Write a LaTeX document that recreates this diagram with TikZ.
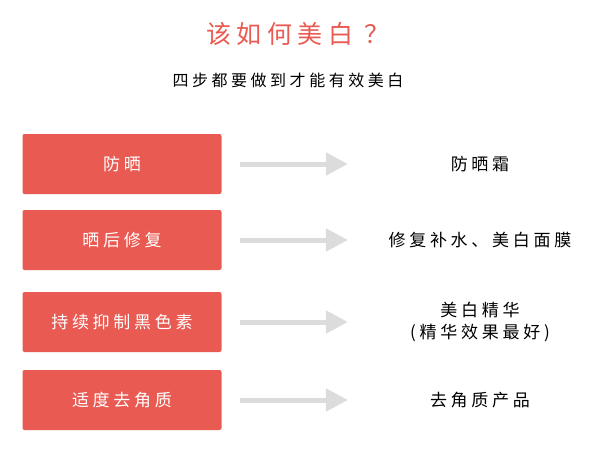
\documentclass[tikz,border=0pt]{standalone}
\usepackage{fontspec}
\setmainfont{Noto Sans CJK SC}[LetterSpace=22]
\usetikzlibrary{arrows.meta}
\definecolor{boxred}{HTML}{E85A52}
\definecolor{arrowgray}{HTML}{DCDCDC}
\begin{document}
\begin{tikzpicture}[x=1pt,y=-1pt,thick,
    step box/.style={fill=boxred,rounded corners=2pt,minimum width=199pt,minimum height=60pt,text=white,font=\fontsize{17}{20}\selectfont},
    result/.style={font=\fontsize{17}{22}\selectfont,align=center},
    pointer/.style={draw=arrowgray,line width=5pt,-{Triangle[length=22pt,width=22pt]}}]
        \useasboundingbox (0,0) rectangle (600,451);
        \node[text=boxred,font=\fontsize{25}{28}\selectfont] at (298,34) (title) {该如何美白 ？};
        \node[font=\fontsize{16}{18}\selectfont] at (288,80) (sub) {四步都要做到才能有效美白};

        \node[step box] at (122,164) (s1) {防晒};
        \node[step box] at (122,240) (s2) {晒后修复};
        \node[step box] at (122,322) (s3) {持续抑制黑色素};
        \node[step box] at (122,400) (s4) {适度去角质};

        \node[result] at (480,164) (r1) {防晒霜};
        \node[result] at (480,240) (r2) {修复补水、美白面膜};
        \node[result] at (480,322) (r3) {美白精华\\(精华效果最好)};
        \node[result] at (480,400) (r4) {去角质产品};

        \foreach \i in {1,...,4}
            \draw[pointer] ([xshift=18pt]s\i.east) -- ([xshift=126pt]s\i.east);
\end{tikzpicture}
\end{document}
